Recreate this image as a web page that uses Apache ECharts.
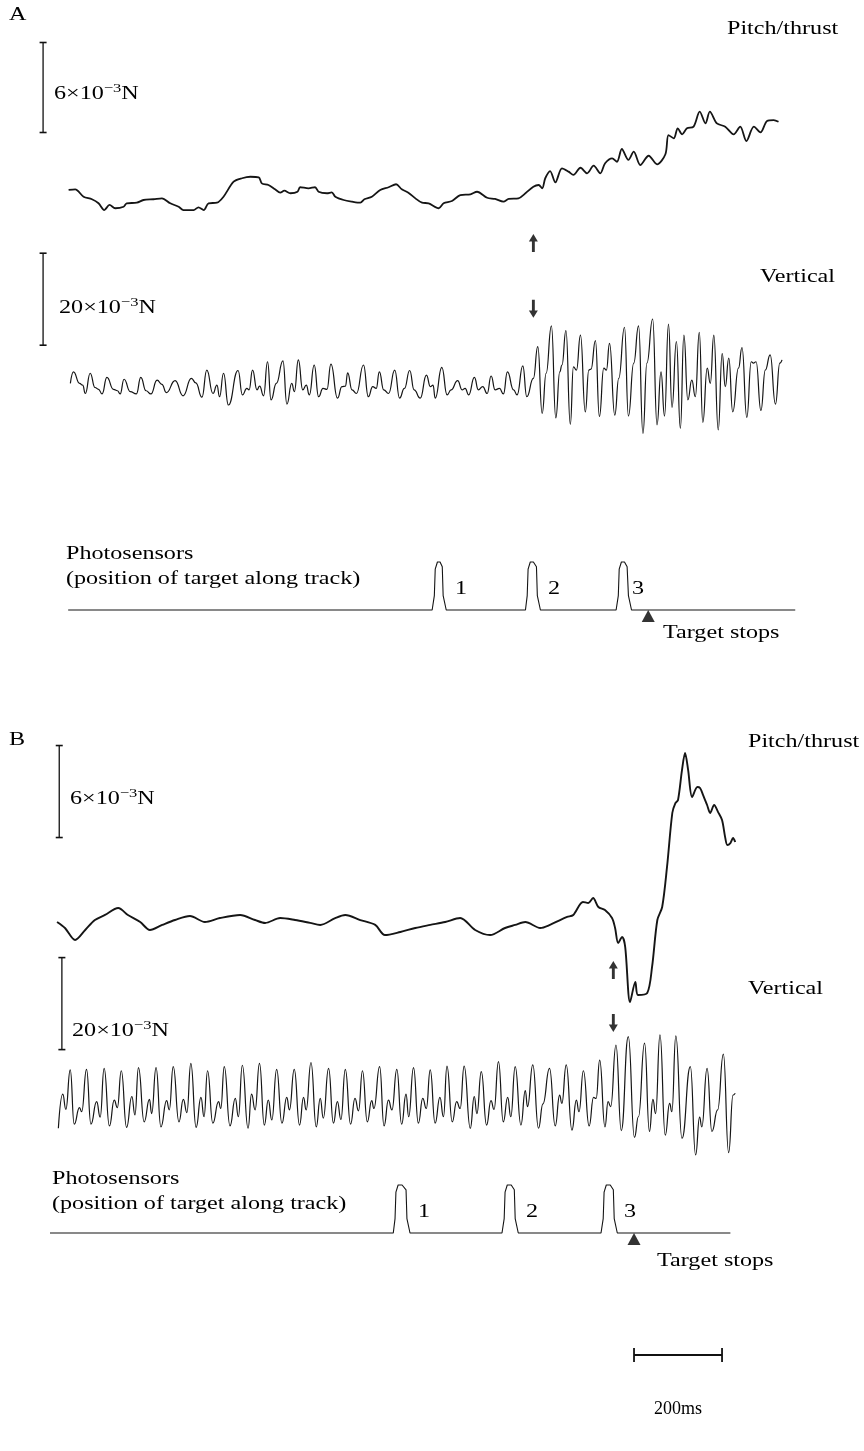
<!DOCTYPE html>
<html><head><meta charset="utf-8">
<script src="https://cdn.jsdelivr.net/npm/echarts@6/dist/echarts.min.js"></script>
<style>html,body{margin:0;padding:0;background:#fff}#c{width:864px;height:1451px}</style>
</head><body><div id="c"></div>
<script>
// ---- Panel A (time in ms from trace start, force in 10^-3 N) ----
const pitchA = [[1,2.67],[16,2.71],[35,2.22],[54,2.05],[69,1.78],[82,1.33],[94,1.67],[107,1.45],[126,1.55],[133,1.78],[156,1.82],[171,2.00],[194,2.05],[213,2.11],[232,1.78],[251,1.55],[262,1.33],[285,1.33],[296,1.51],[308,1.33],[319,1.78],[338,1.82],[353,2.22],[376,3.22],[395,3.45],[414,3.55],[433,3.51],[440,3.11],[455,3.00],[470,2.71],[482,2.49],[491,2.62],[505,2.45],[521,2.55],[527,2.85],[546,2.78],[561,2.85],[569,2.55],[588,2.45],[599,2.51],[607,2.22],[626,2.00],[645,1.89],[664,1.82],[673,2.05],[690,2.22],[709,2.67],[728,2.85],[745,3.05],[758,2.71],[773,2.49],[789,2.11],[804,1.82],[819,1.78],[842,1.45],[853,1.78],[872,1.93],[891,2.33],[914,2.38],[929,2.55],[952,2.15],[970,2.07],[989,1.89],[1001,2.07],[1023,2.11],[1039,2.45],[1057,2.89],[1069,3.00],[1077,2.78],[1084,3.45],[1095,3.93],[1107,3.18],[1122,4.11],[1137,3.89],[1148,3.67],[1164,4.15],[1179,3.78],[1194,4.29],[1209,3.78],[1220,4.45],[1236,4.78],[1247,4.55],[1258,5.40],[1273,4.67],[1285,5.22],[1300,4.33],[1319,4.95],[1338,4.38],[1357,5.05],[1364,6.33],[1376,6.11],[1385,6.78],[1395,6.38],[1406,6.78],[1421,6.89],[1435,7.89],[1448,7.11],[1458,7.89],[1474,7.11],[1493,6.89],[1512,6.38],[1527,6.89],[1541,5.93],[1558,6.89],[1573,6.51],[1588,7.27],[1603,7.33],[1614,7.22]];

const verticalA = [[5,14.7],[12,17.2],[26,14.7],[33,14.3],[39,12.5],[50,16.9],[61,13.8],[69,13.4],[77,12.4],[88,16.0],[103,13.4],[112,13.1],[118,12.4],[127,15.6],[141,12.9],[155,12.4],[165,16.0],[177,13.1],[188,12.4],[202,15.4],[213,14.5],[223,12.7],[243,15.3],[261,12.0],[280,15.8],[290,14.8],[304,11.7],[315,17.6],[329,12.5],[338,14.3],[344,11.8],[353,16.9],[364,10.0],[386,17.5],[396,12.2],[406,13.6],[411,13.3],[419,17.6],[429,13.3],[435,14.1],[444,12.0],[453,19.4],[461,11.1],[473,14.7],[488,19.6],[497,10.2],[508,14.7],[514,12.9],[523,19.8],[533,13.3],[541,14.3],[548,12.2],
[559,18.7],[569,11.8],[579,13.6],[588,13.4],[597,18.9],[612,11.5],[622,14.0],[630,14.1],[635,17.0],[645,13.3],[655,12.5],[671,18.7],[682,11.8],[692,14.0],[700,13.6],[707,17.2],[717,13.3],[728,12.5],[742,17.6],[753,11.5],[764,13.6],[776,17.5],[786,13.3],[800,11.5],[814,16.5],[823,14.0],[829,14.3],[834,11.5],[849,18.2],[861,12.2],[870,13.3],[885,15.3],[895,13.3],[902,13.6],[910,12.2],[923,16.0],[932,13.3],[942,14.0],[952,12.5],[961,16.3],[970,13.3],[980,13.6],[989,12.4],[998,17.2],[1012,13.3],[1020,12.2],[1033,18.5],[1042,11.8],[1057,15.8],
[1067,22.7],[1077,8.2],[1086,16.9],[1098,27.2],[1108,7.2],[1117,17.2],[1122,18.7],[1131,26.2],[1141,5.8],[1148,18.3],[1155,17.6],[1164,25.2],[1175,8.5],[1183,17.6],[1188,17.8],[1198,24.0],[1207,7.5],[1217,18.0],[1223,17.6],[1230,23.4],[1242,7.8],[1251,15.8],[1264,26.9],[1273,7.6],[1285,19.1],[1296,27.2],[1306,3.8],[1315,19.1],[1328,28.7],[1338,5.7],[1347,17.2],[1355,7.6],[1364,27.6],[1372,9.5],[1382,23.8],[1391,4.9],[1399,25.2],[1408,11.1],[1417,15.4],[1425,11.8],[1434,25.8],[1442,6.2],[1452,18.0],[1459,14.7],[1467,25.2],[1477,4.6],[1486,21.2],[1493,14.0],[1501,20.2],[1510,8.5],[1523,18.0],[1531,22.5],[1542,7.3],[1552,19.4],[1557,19.1],[1563,19.4],[1574,8.8],[1584,17.6],[1595,20.9],[1607,10.2],[1617,19.1],[1622,19.8]];

const photoA = [[0,0],[827,0],[832,0.3],[834,0.85],[839,1],[845,1],[850,0.9],[852,0.3],[859,0],[1039,0],[1043,0.3],[1045,0.85],[1050,1],[1057,1],[1064,0.9],[1066,0.3],[1073,0],[1245,0],[1250,0.3],[1252,0.85],[1257,1],[1264,1],[1270,0.9],[1273,0.3],[1280,0],[1652,0]];

const onsetA = 1057;       // arrows
const targetStopA = 1318;  // triangle
const pitchBarA = [-57, 6.5, 12.5];   // t, from, to (6 mN)
const vertBarA = [-57, 23, 43];       // 20 mN

// ---- Panel B ----
const pitchB = [[0,6.39],[18,6.0],[41,5.22],[64,5.87],[86,6.52],[109,6.85],[139,7.30],[161,6.85],[189,6.39],[211,5.87],[239,6.20],[268,6.52],[302,6.78],[336,6.39],[370,6.65],[416,6.85],[450,6.52],[473,6.33],[507,6.65],[541,6.52],[575,6.33],[598,6.20],[632,6.65],[655,6.85],[689,6.52],[723,6.20],[745,5.54],[780,5.74],[814,6.0],[848,6.20],[882,6.39],[916,6.65],[950,5.87],[984,5.54],[1018,6.0],[1041,6.20],[1064,6.39],[1098,6.0],[1120,6.20],[1143,6.52],[1159,6.72],[1173,6.85],[1195,7.70],[1207,7.63],[1218,7.96],[1230,7.37],[1245,7.17],[1261,6.65],[1268,6.0],[1275,5.02],[1284,5.41],[1291,4.76],[1302,1.17],[1314,2.48],[1320,1.63],[1341,1.76],[1352,3.46],[1364,6.52],[1375,7.37],[1386,9.98],[1398,13.50],[1405,14.15],[1411,14.35],[1420,16.30],[1427,17.41],[1434,16.30],[1443,14.54],[1455,15.20],[1461,15.13],[1468,14.67],[1477,14.02],[1484,13.50],[1493,14.02],[1502,13.56],[1511,13.04],[1518,11.93],[1523,11.41],[1530,11.54],[1536,11.87],[1541,11.61]];

const verticalB = [[3,6.9],[13,14.3],[20,11.0],[30,19.6],[39,7.8],[51,11.4],[56,10.5],[67,19.7],[77,7.8],[90,12.7],[98,9.3],[107,19.9],[119,7.4],[130,13.0],[137,11.4],[146,19.4],[158,7.1],[170,13.8],[177,9.8],[185,20.1],[198,8.3],[210,13.2],[215,10.1],[225,20.1],[236,7.2],[249,12.9],[255,10.9],[264,20.3],[277,8.3],[287,13.2],[295,10.3],[304,21.0],[316,7.1],[327,13.6],[334,9.4],[342,19.4],[354,8.0],[367,12.7],[372,11.2],[380,20.3],[393,7.4],[405,13.4],[412,9.4],[421,20.6],[434,6.9],[442,14.3],[450,10.9],[460,21.0],[471,7.6],[480,13.0],[488,8.7],[499,19.7],[511,8.0],[522,13.6],[528,10.9],[539,19.7],[551,7.6],[560,13.6],[566,10.9],[577,21.2],[589,7.2],[598,13.4],[605,9.1],[617,19.9],[628,8.0],[637,12.7],[645,8.8],[655,19.7],[667,7.8],[677,13.4],[685,10.7],[694,19.4],[705,8.3],[715,12.9],[720,11.2],[733,20.3],[743,7.4],[753,13.0],[761,10.9],[772,19.7],[783,7.8],[793,14.3],[799,9.4],[810,20.1],[821,8.0],[831,13.4],[839,11.2],[848,19.6],[859,8.0],[870,13.6],[878,9.4],[886,20.4],[898,8.3],[908,12.7],[916,11.2],[925,20.4],[939,6.9],[948,13.8],[954,10.1],[964,19.2],[976,7.6],[986,12.9],[993,11.0],[1003,21.4],[1014,8.3],[1024,13.6],[1031,9.4],[1041,20.3],[1054,7.6],[1064,15.1],[1069,11.6],[1081,20.7],[1094,6.9],[1104,12.2],[1119,19.9],[1132,7.4],[1142,14.1],[1147,12.3],[1157,20.7],[1170,6.5],[1180,13.0],[1186,10.5],[1196,19.4],[1209,7.4],[1219,13.6],[1225,13.4],[1233,21.7],[1245,7.2],[1252,12.7],[1258,11.6],[1270,25.0],[1282,6.4],[1298,26.8],[1312,4.9],[1321,9.4],[1335,25.4],[1346,6.2],[1354,13.2],[1360,10.1],[1370,27.2],[1382,5.4],[1392,12.3],[1397,10.5],[1406,27.0],[1420,4.7],[1439,20.3],[1451,1.1],[1460,9.3],[1465,7.2],[1477,19.9],[1488,6.2],[1501,10.9],[1514,23.0],[1526,1.6],[1536,14.1],[1541,14.5]];

const photoB = [[-16,0],[764,0],[768,0.3],[770,0.85],[775,1],[784,1],[793,0.9],[795,0.3],[802,0],[1011,0],[1016,0.3],[1018,0.85],[1023,1],[1032,1],[1039,0.9],[1041,0.3],[1048,0],[1236,0],[1241,0.3],[1243,0.85],[1248,1],[1257,1],[1264,0.9],[1266,0.3],[1273,0],[1530,0]];

const onsetB = 1264;
const targetStopB = 1311;
const pitchBarB = [5, 11.9, 17.9];
const vertBarB = [11, 24, 44];
const timeBar = [1311, 1511];   // 200 ms

// ---- layout ----
const FONT = '"Liberation Serif","Times New Roman",serif';
const SX = 1.27;  // horizontal stretch of the scanned lettering
const gA = {left:40, width:757}, gB = {left:50, width:687};
const grids = [
  {...gA, top:20,   height:210}, // 0 pitch A
  {...gA, top:244,  height:207}, // 1 vertical A
  {...gA, top:562,  height:48},  // 2 photo A
  {...gB, top:698,  height:322}, // 3 pitch B
  {...gB, top:953,  height:207}, // 4 vertical B
  {...gB, top:1185, height:48},  // 5 photo B
  {...gB, top:1340, height:30}   // 6 time bar
];
const xRange = [[-64,1656],[-64,1656],[-64,1656],[-16,1545],[-16,1545],[-16,1545],[-16,1545]];
const yRange = [[0,14],[0,45],[0,1],[0,21],[0,45],[0,1],[-1,1]];

function trace(data, gi, w, smooth, mono){
  const s = {type:'line', xAxisIndex:gi, yAxisIndex:gi, data, symbol:'none', showSymbol:false,
    smooth, clip:false, silent:true, lineStyle:{color:'#151515', width:w}};
  if (mono) s.smoothMonotone = 'x';
  return s;
}
function vbar(b, gi){
  return {type:'line', xAxisIndex:gi, yAxisIndex:gi, data:[[b[0],b[1]],[b[0],b[2]]], symbol:'rect',
    symbolSize:[7,1.6], showSymbol:true, clip:false, silent:true,
    itemStyle:{color:'#111'}, lineStyle:{color:'#111', width:1.3}};
}
const UP = 'path://M5,0L10,9L6.6,9L6.6,22L3.4,22L3.4,9L0,9Z';
function arrow(t, v, gi, rot){
  return {type:'scatter', xAxisIndex:gi, yAxisIndex:gi, data:[[t,v]], symbol:UP, symbolSize:[9,18],
    symbolRotate:rot, clip:false, silent:true, itemStyle:{color:'#000'}};
}
function tri(t, gi){
  return {type:'scatter', xAxisIndex:gi, yAxisIndex:gi, data:[[t,0]], symbol:'triangle', symbolSize:[13,12],
    symbolOffset:[0,6], clip:false, silent:true, itemStyle:{color:'#000'}};
}
function txt(x, y, s, size, sx){
  return {type:'text', x, y, scaleX:(sx||SX), silent:true,
    style:{text:s, font:(size||19)+'px '+FONT, fill:'#000', verticalAlign:'top'}};
}
function force(x, y, a){
  return {type:'text', x, y, scaleX:SX, silent:true, style:{
    text:'{n|'+a+'×10}{s|−3}{n|N}', verticalAlign:'top',
    rich:{n:{fontSize:19, fontFamily:FONT, lineHeight:22, verticalAlign:'bottom'},
          s:{fontSize:13, fontFamily:FONT, lineHeight:22, verticalAlign:'top'}},
    fill:'#000'}};
}

const option = {
  animation:false,
  backgroundColor:'#fff',
  grid: grids,
  xAxis: grids.map((g,i)=>({gridIndex:i, type:'value', min:xRange[i][0], max:xRange[i][1], show:false})),
  yAxis: grids.map((g,i)=>({gridIndex:i, type:'value', min:yRange[i][0], max:yRange[i][1], show:false})),
  series: [
    trace(pitchA, 0, 1.8, 0.3),
    trace(verticalA, 1, 1.2, 0.5, true),
    trace(photoA, 2, 1.1, false),
    trace(pitchB, 3, 1.9, 0.3),
    trace(verticalB, 4, 1.2, 0.5, true),
    trace(photoB, 5, 1.1, false),
    vbar(pitchBarA, 0), vbar(vertBarA, 1), vbar(pitchBarB, 3), vbar(vertBarB, 4),
    {type:'line', xAxisIndex:6, yAxisIndex:6, data:[[timeBar[0],0],[timeBar[1],0]], symbol:'rect',
      symbolSize:[1.8,14], clip:false, silent:true, itemStyle:{color:'#111'}, lineStyle:{color:'#111', width:2}},
    arrow(onsetA, 45.2, 1, 0), arrow(onsetA, 30.9, 1, 180),
    arrow(onsetB, 41.3, 4, 0), arrow(onsetB, 29.8, 4, 180),
    tri(targetStopA, 2), tri(targetStopB, 5)
  ],
  graphic: [
    txt(9, 6, 'A'),
    txt(727, 20, 'Pitch/thrust'),
    force(54, 82, '6'),
    txt(760, 268, 'Vertical'),
    force(59, 296, '20'),
    txt(66, 545, 'Photosensors'),
    txt(66, 570, '(position of target along track)'),
    txt(455, 580, '1'), txt(548, 580, '2'), txt(632, 580, '3'),
    txt(663, 624, 'Target stops'),
    txt(9, 731, 'B'),
    txt(748, 733, 'Pitch/thrust'),
    force(70, 787, '6'),
    txt(748, 980, 'Vertical'),
    force(72, 1019, '20'),
    txt(52, 1170, 'Photosensors'),
    txt(52, 1195, '(position of target along track)'),
    txt(418, 1203, '1'), txt(526, 1203, '2'), txt(624, 1203, '3'),
    txt(657, 1252, 'Target stops'),
    txt(654, 1400, '200ms', 18, 1.0)
  ]
};
const chart = echarts.init(document.getElementById('c'));
chart.setOption(option);
</script>
</body></html>
